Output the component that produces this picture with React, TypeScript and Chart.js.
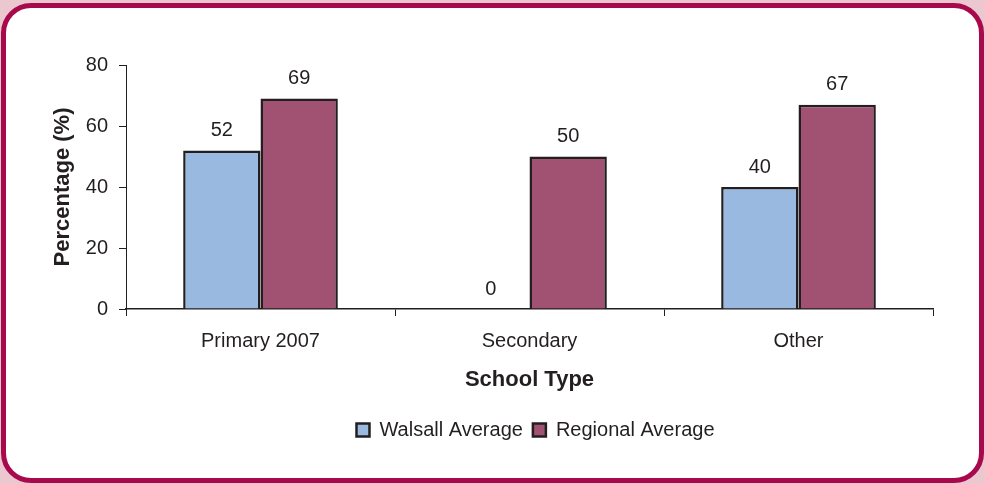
import React, { useEffect, useRef } from "react";
import { Chart, registerables } from "chart.js";

Chart.register(...registerables);

const categories = ["Primary 2007", "Secondary", "Other"];
const walsallAverage = [52, 0, 40];
const regionalAverage = [69, 50, 67];
const seriesNames = ["Walsall Average", "Regional Average"];
const yTicks = [0, 20, 40, 60, 80];
const yTitle = "Percentage (%)";
const xTitle = "School Type";

const FONT = "'Liberation Sans', Arial, Helvetica, sans-serif";
const TEXT = "#231f20";

const valueLabels = {
  id: "valueLabels",
  afterDatasetsDraw(chart: any) {
    const ctx = chart.ctx;
    ctx.save();
    ctx.font = `20px ${FONT}`;
    ctx.fillStyle = TEXT;
    ctx.textAlign = "center";
    ctx.textBaseline = "middle";
    chart.data.datasets.forEach((ds: any, i: number) => {
      const meta = chart.getDatasetMeta(i);
      meta.data.forEach((el: any, j: number) => {
        const v = ds.data[j];
        ctx.fillText(String(v), el.x, el.y - 20);
      });
    });
    ctx.restore();
  },
};

const legendShift = {
  id: "legendShift",
  afterLayout(chart: any) {
    const lg = chart.legend;
    if (lg) {
      lg.left += 6;
      lg.right += 6;
    }
  },
};

export default function App() {
  const ref = useRef<HTMLCanvasElement>(null);

  useEffect(() => {
    if (!ref.current) return;
    const chart = new Chart(ref.current, {
      type: "bar",
      data: {
        labels: categories,
        datasets: [
          {
            label: seriesNames[0],
            data: walsallAverage,
            backgroundColor: "#99b9e1",
            borderColor: "#231f20",
            borderWidth: 2.5,
            categoryPercentage: 0.575,
            barPercentage: 1,
          },
          {
            label: seriesNames[1],
            data: regionalAverage,
            backgroundColor: "#a15273",
            borderColor: "#231f20",
            borderWidth: 2.5,
            categoryPercentage: 0.575,
            barPercentage: 1,
          },
        ],
      },
      options: {
        responsive: false,
        animation: false,
        layout: { padding: { top: 65, right: 52, bottom: 34, left: 50 } },
        plugins: {
          tooltip: { enabled: false },
          legend: {
            position: "bottom",
            fullSize: false,
            labels: {
              font: { family: FONT, size: 20 },
              color: TEXT,
              boxWidth: 13,
              boxHeight: 13,
              padding: 10,
            },
          },
        },
        scales: {
          x: {
            grid: {
              drawOnChartArea: false,
              drawTicks: true,
              tickLength: 7,
              color: "#231f20",
              offset: true,
            },
            border: { display: true, color: "#231f20", width: 1.5 },
            ticks: {
              font: { family: FONT, size: 20 },
              color: TEXT,
              padding: 13,
            },
            title: {
              display: true,
              text: xTitle,
              font: { family: FONT, size: 22, weight: "bold" },
              color: TEXT,
              padding: { top: 0, bottom: 17 },
            },
            afterFit(scale: any) {
              scale.height = 101;
            },
          },
          y: {
            min: 0,
            max: 80,
            afterBuildTicks(scale: any) {
              scale.ticks = yTicks.map((v) => ({ value: v }));
            },
            grid: {
              drawOnChartArea: false,
              drawTicks: true,
              tickLength: 7,
              color: "#231f20",
            },
            border: { display: true, color: "#231f20", width: 1 },
            ticks: {
              font: { family: FONT, size: 20 },
              color: TEXT,
              padding: 11,
            },
            title: {
              display: true,
              text: yTitle,
              font: { family: FONT, size: 22, weight: "bold" },
              color: TEXT,
              padding: 0,
            },
            afterFit(scale: any) {
              scale.width = 76;
            },
          },
        },
      },
      plugins: [valueLabels, legendShift],
    });
    return () => chart.destroy();
  }, []);

  return (
    <div
      style={{
        position: "fixed",
        left: 0,
        top: 0,
        width: 985,
        height: 484,
        background: "#ebc7cf",
        overflow: "hidden",
      }}
    >
      <div
        style={{
          position: "absolute",
          left: 1,
          top: 3,
          width: 983,
          height: 480,
          boxSizing: "border-box",
          border: "5px solid #a8084c",
          borderRadius: 30,
          background: "#ffffff",
        }}
      />
      <canvas
        ref={ref}
        width={985}
        height={484}
        style={{ position: "absolute", left: 0, top: 0 }}
      />
    </div>
  );
}
